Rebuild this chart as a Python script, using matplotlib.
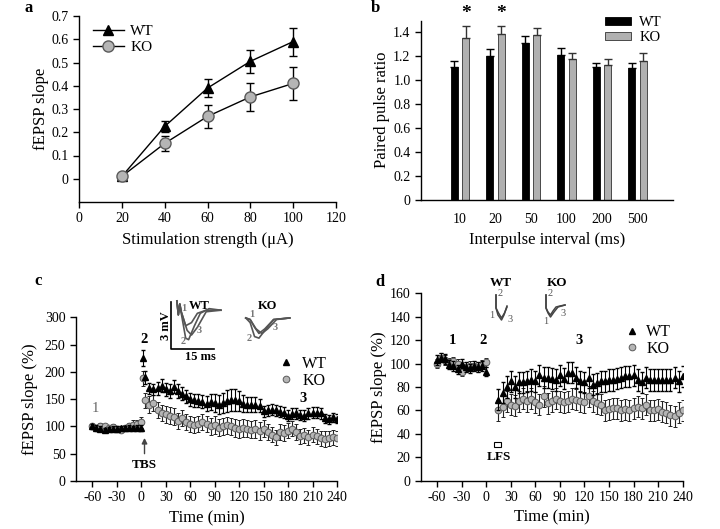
import numpy as np
import matplotlib
matplotlib.use("Agg")
import matplotlib.pyplot as plt

plt.rcParams['font.family'] = ['Liberation Serif', 'DejaVu Serif']
plt.rcParams['axes.linewidth'] = 1.0
plt.rcParams['axes.unicode_minus'] = False

# ---------------- data ----------------
# panel a: input-output
stim = [20, 40, 60, 80, 100]
io_wt = [0.01, 0.225, 0.39, 0.505, 0.59]
io_wt_err = [0.015, 0.025, 0.04, 0.05, 0.06]
io_ko = [0.01, 0.152, 0.268, 0.352, 0.41]
io_ko_err = [0.015, 0.033, 0.05, 0.06, 0.07]

# panel b: paired pulse
ppi_labels = ['10', '20', '50', '100', '200', '500']
ppr_wt = [1.11, 1.205, 1.31, 1.215, 1.11, 1.10]
ppr_wt_err = [0.05, 0.055, 0.06, 0.055, 0.035, 0.045]
ppr_ko = [1.35, 1.385, 1.375, 1.18, 1.125, 1.165]
ppr_ko_err = [0.10, 0.07, 0.06, 0.05, 0.05, 0.06]
ppr_sig = [0, 1]

# panel c: LTP (TBS at t=0)
ltp_t_base = list(range(-60, 1, 5))
ltp_t_post = [2] + list(range(5, 241, 5))
ltp_wt_base = [100, 98, 96, 93, 95, 96, 96, 97, 97, 98, 97, 98, 97]
ltp_ko_base = [100, 98, 101, 100, 97, 99, 95, 94, 97, 101, 103, 104, 108]
ltp_wt_post = [225, 190, 170, 168, 170, 175, 168, 165, 173, 165, 160, 155, 150,
               148, 147, 145, 142, 145, 143, 140, 143, 146, 148, 148, 147, 142,
               140, 140, 140, 138, 128, 130, 131, 130, 127, 125, 120, 123, 124,
               121, 120, 124, 125, 125, 124, 115, 113, 117, 114]
ltp_ko_post = [188, 148, 140, 143, 130, 125, 122, 120, 118, 110, 115, 108, 105,
               103, 105, 108, 105, 100, 103, 98, 100, 102, 100, 97, 95, 97,
               96, 94, 95, 92, 96, 90, 85, 80, 90, 88, 92, 96, 90, 82,
               84, 80, 85, 82, 78, 77, 78, 80, 78]
ltp_wt_base_err = [4, 4, 4, 4, 4, 4, 4, 4, 4, 4, 4, 4, 5]
ltp_ko_base_err = [5, 5, 5, 5, 5, 5, 5, 5, 5, 6, 8, 8, 10]
ltp_wt_post_err = [15, 12, 10, 10, 12, 12, 12, 12, 12, 12, 12, 12, 12,
                   12, 12, 12, 14, 15, 16, 18, 18, 20, 20, 20, 18, 15,
                   14, 14, 14, 12, 10, 10, 10, 10, 10, 10, 10, 10, 10,
                   10, 10, 10, 10, 10, 10, 8, 8, 8, 8]
ltp_ko_post_err = [14, 14, 15, 15, 15, 15, 15, 15, 15, 15, 15, 15, 15,
                   15, 15, 15, 15, 16, 16, 16, 16, 16, 16, 16, 16, 16,
                   16, 16, 16, 16, 15, 15, 14, 14, 14, 14, 14, 14, 14, 14,
                   14, 14, 14, 14, 14, 14, 14, 14, 14]

# panel d: LTD (LFS)
ltd_t_base = list(range(-60, 1, 5))
ltd_t_post = list(range(15, 241, 5))
ltd_wt_base = [103, 105, 104, 99, 98, 95, 100, 97, 96, 98, 97, 98, 93]
ltd_ko_base = [100, 105, 103, 101, 102, 100, 93, 97, 98, 98, 97, 99, 101]
ltd_wt_post = [69, 75, 80, 85, 80, 84, 84, 85, 86, 85, 90, 88, 88, 87, 86, 90,
               87, 92, 92, 88, 85, 84, 88, 82, 83, 85, 85, 86, 86, 87, 88, 89,
               89, 90, 86, 84, 88, 86, 86, 86, 86, 86, 86, 88, 85, 89]
ltd_ko_post = [60, 63, 68, 65, 64, 68, 70, 68, 70, 67, 65, 72, 66, 68, 70, 68,
               67, 68, 70, 69, 68, 67, 72, 68, 66, 65, 60, 61, 62, 62, 60, 61,
               60, 62, 63, 62, 65, 60, 60, 61, 59, 58, 56, 55, 58, 60]
ltd_base_err = 4
ltd_post_err = 9

# example traces (ms, mV)
tr_c_wt = [([2, 2.5, 3, 3.5, 5, 7, 9, 12, 17], [3.1, 2.2, 2.9, 2.4, 1.5, 1.7, 2.3, 2.5, 2.5]),
           ([2, 2.5, 3, 3.5, 5, 6, 8, 10, 13, 17], [3.1, 2.2, 2.9, 2.3, 0.7, 0.6, 1.5, 2.3, 2.6, 2.5]),
           ([2, 2.5, 3, 3.5, 5.5, 7, 9, 12, 17], [3.1, 2.2, 2.9, 2.4, 1.2, 0.9, 1.4, 2.4, 2.5])]
tr_c_ko = [([25.5, 27, 28.5, 30, 32, 35, 40.5], [2.0, 1.9, 1.4, 1.0, 1.3, 1.9, 2.0]),
           ([25.5, 27, 28.5, 30, 32, 35, 40.5], [2.0, 1.7, 0.8, 0.7, 1.2, 1.9, 2.0]),
           ([25.5, 27, 29, 31, 33, 36, 40.5], [2.0, 1.9, 1.3, 1.0, 1.3, 1.9, 2.0])]
tr_d_wt = [([8, 8, 10, 13.5, 16, 19], [30, 17, 10, 5, 10, 19]),
           ([8, 8, 10.5, 13.5, 16.5, 19], [30, 17, 12, 7, 12, 18])]
tr_d_ko = [([58, 58, 60, 62.5, 66, 70, 77], [30, 17, 12, 8, 13, 18, 20]),
           ([58, 58, 60, 62.5, 65, 68, 72, 77], [30, 17, 13, 10, 14, 18, 19, 20])]

W, H = 720, 529
fig = plt.figure(figsize=(W / 100, H / 100), dpi=100)

TICK = 10
LAB = 12


def px_axes(x0, y0, x1, y1):
    return fig.add_axes([x0 / W, 1 - y1 / H, (x1 - x0) / W, (y1 - y0) / H])


def style(ax):
    ax.spines['top'].set_visible(False)
    ax.spines['right'].set_visible(False)
    ax.tick_params(direction='out', length=4, width=1, labelsize=TICK)


GRAY = '#b5b5b5'
EDGE = '#5a5a5a'

# ---------------- a ----------------
ax = px_axes(79, 16, 336, 202)
style(ax)
ax.errorbar(stim, io_wt, yerr=io_wt_err, color='black', marker='^', ms=7,
            lw=1, capsize=3, elinewidth=1, label='WT', zorder=3)
ax.errorbar(stim, io_ko, yerr=io_ko_err, color='black', marker='o', ms=8,
            mfc=GRAY, mec=EDGE, lw=1, capsize=3, elinewidth=1, label='KO', zorder=3)
ax.set_xlim(0, 120)
ax.set_ylim(-0.1, 0.7)
ax.set_xticks(range(0, 121, 20))
ax.set_yticks(np.arange(0, 0.71, 0.1))
ax.set_yticklabels(['0', '0.1', '0.2', '0.3', '0.4', '0.5', '0.6', '0.7'])
ax.set_xlabel('Stimulation strength (μA)', fontsize=LAB, labelpad=5)
ax.set_ylabel('fEPSP slope', fontsize=LAB, labelpad=2)
h, l = ax.get_legend_handles_labels()
h = [x[0] for x in h]
ax.legend(h, l, loc='upper left', bbox_to_anchor=(0.0545, 0.955), frameon=False,
          fontsize=11, handlelength=2.0, handletextpad=0.45, labelspacing=0.15,
          borderpad=0, borderaxespad=0)
fig.text(29 / W, 1 - 8 / H, 'a', fontsize=12, fontweight='bold', va='center', ha='center')

# ---------------- b ----------------
ax = px_axes(421, 20.5, 673, 200)
style(ax)
x = np.arange(len(ppi_labels))
bw = 0.2
ax.bar(x - 0.16, ppr_wt, bw, color='black', edgecolor='black', lw=0.6,
       yerr=[np.zeros(len(x)), ppr_wt_err], error_kw=dict(capsize=3, elinewidth=1, ecolor='black'),
       label='WT')
ax.bar(x + 0.16, ppr_ko, bw, color='#b0b0b0', edgecolor='#333333', lw=0.6,
       yerr=[np.zeros(len(x)), ppr_ko_err], error_kw=dict(capsize=3, elinewidth=1, ecolor='#333333'),
       label='KO')
for i in ppr_sig:
    ax.text(x[i] + 0.16, 1.56, '*', fontsize=14, fontweight='bold', ha='center', va='center')
ax.set_xlim(-1.1, 6.0)
ax.set_ylim(0, 1.5)
ax.set_xticks(x)
ax.set_xticklabels(ppi_labels)
ax.tick_params(axis='x', length=0, pad=9)
ax.set_yticks(np.arange(0, 1.41, 0.2))
ax.set_yticklabels(['0', '0.2', '0.4', '0.6', '0.8', '1.0', '1.2', '1.4'])
ax.set_xlabel('Interpulse interval (ms)', fontsize=LAB, labelpad=5)
ax.set_ylabel('Paired pulse ratio', fontsize=LAB, labelpad=2)
ax.legend(loc='upper left', bbox_to_anchor=(0.73, 1.025), frameon=False, fontsize=10.5,
          handlelength=1.8, handleheight=0.45, handletextpad=0.55, labelspacing=0.15,
          borderpad=0, borderaxespad=0)
fig.text(375 / W, 1 - 8 / H, 'b', fontsize=12, fontweight='bold', va='center', ha='center')


def timecourse(ax, tb, tp, wb, wp, kb, kp, web, wep, keb, kep):
    t = tb + tp
    wt = wb + wp
    ko = kb + kp
    we = list(web) + list(wep)
    ke = list(keb) + list(kep)
    ax.errorbar(t, ko, yerr=ke, fmt='o', ms=4.8, mfc=GRAY, mec=EDGE, mew=0.7,
                ecolor='#222222', elinewidth=0.8, capsize=1.5, label='KO', zorder=2)
    ax.errorbar(t, wt, yerr=we, fmt='^', ms=5, color='black',
                ecolor='black', elinewidth=0.8, capsize=1.5, label='WT', zorder=3)


# ---------------- c ----------------
ax = px_axes(76, 317.3, 337, 481)
style(ax)
timecourse(ax, ltp_t_base, ltp_t_post, ltp_wt_base, ltp_wt_post, ltp_ko_base, ltp_ko_post,
           ltp_wt_base_err, ltp_wt_post_err, ltp_ko_base_err, ltp_ko_post_err)
ax.set_xlim(-80, 240)
ax.set_ylim(0, 300)
ax.set_xticks(range(-60, 241, 30))
ax.set_yticks(range(0, 301, 50))
ax.set_xlabel('Time (min)', fontsize=LAB, labelpad=4)
ax.set_ylabel('fEPSP slope (%)', fontsize=LAB, labelpad=5)
h, l = ax.get_legend_handles_labels()
h = [x[0] for x in h][::-1]
ax.legend(h, l[::-1], loc='upper left', bbox_to_anchor=(0.778, 0.765), frameon=False,
          fontsize=11.5, handlelength=0.9, handletextpad=0.55, labelspacing=0.05,
          borderpad=0, borderaxespad=0)
ax.annotate('', xy=(4, 84), xytext=(4, 45),
            arrowprops=dict(arrowstyle='-|>', color='#444444', lw=1, mutation_scale=8))
ax.text(4, 29, 'TBS', fontsize=9.5, fontweight='bold', ha='center', va='center')
ax.text(-56, 132, '1', fontsize=10.5, color='#666666', ha='center', va='center')
ax.text(4, 260, '2', fontsize=10.5, fontweight='bold', ha='center', va='center')
ax.text(198, 152, '3', fontsize=10.5, fontweight='bold', ha='center', va='center')
fig.text(38 / W, 1 - 281 / H, 'c', fontsize=12, fontweight='bold', va='center', ha='center')

# inset traces c
ins = px_axes(171, 297, 300, 349)
ins.axis('off')
ins.set_xlim(0, 44)
ins.set_ylim(0, 3.35)
ins.plot([0, 0, 14.5], [3.0, 0, 0], color='black', lw=1.2, clip_on=False)
for tx, ty in tr_c_wt + tr_c_ko:
    ins.plot(tx, ty, color='#555555', lw=1.2, clip_on=False)
ins.text(9.5, 2.75, 'WT', fontsize=9, fontweight='bold', ha='center', va='center')
ins.text(33, 2.75, 'KO', fontsize=9, fontweight='bold', ha='center', va='center')
ins.text(10, -0.5, '15 ms', fontsize=9, fontweight='bold', ha='center', va='center')
ins.text(-1.8, 1.5, '3 mV', fontsize=9, fontweight='bold', ha='center', va='center', rotation=90)
for lx, ly, s in [(4.5, 2.6, '1'), (4.0, 0.5, '2'), (9.5, 1.2, '3'),
                  (27.5, 2.2, '1'), (26.5, 0.7, '2'), (35.5, 1.4, '3')]:
    ins.text(lx, ly, s, fontsize=7.5, fontweight='bold', color='#777777', ha='center', va='center')

# ---------------- d ----------------
ax = px_axes(420.7, 293.3, 682.7, 480.7)
style(ax)
timecourse(ax, ltd_t_base, ltd_t_post, ltd_wt_base, ltd_wt_post, ltd_ko_base, ltd_ko_post,
           [ltd_base_err] * len(ltd_t_base), [ltd_post_err] * len(ltd_t_post),
           [ltd_base_err] * len(ltd_t_base), [ltd_post_err] * len(ltd_t_post))
ax.set_xlim(-80, 240)
ax.set_ylim(0, 160)
ax.set_xticks(range(-60, 241, 30))
ax.set_yticks(range(0, 161, 20))
ax.set_xlabel('Time (min)', fontsize=LAB, labelpad=4)
ax.set_ylabel('fEPSP slope (%)', fontsize=LAB, labelpad=2)
h, l = ax.get_legend_handles_labels()
h = [x[0] for x in h][::-1]
ax.legend(h, l[::-1], loc='upper left', bbox_to_anchor=(0.7786, 0.835), frameon=False,
          fontsize=11.5, handlelength=0.9, handletextpad=0.45, labelspacing=0.05,
          borderpad=0, borderaxespad=0)
ax.add_patch(plt.Rectangle((10, 29), 8, 4, fill=False, ec='black', lw=0.8))
ax.text(15, 20.5, 'LFS', fontsize=9.5, fontweight='bold', ha='center', va='center')
ax.text(-41, 120, '1', fontsize=10.5, fontweight='bold', ha='center', va='center')
ax.text(-4, 120, '2', fontsize=10.5, fontweight='bold', ha='center', va='center')
ax.text(114, 120, '3', fontsize=10.5, fontweight='bold', ha='center', va='center')
ax.text(17.5, 168.5, 'WT', fontsize=9.5, fontweight='bold', ha='center', va='center')
ax.text(87, 168.5, 'KO', fontsize=9.5, fontweight='bold', ha='center', va='center')
fig.text(380 / W, 1 - 282 / H, 'd', fontsize=12, fontweight='bold', va='center', ha='center')

ins = px_axes(488, 288, 570, 325)
ins.axis('off')
ins.set_xlim(0, 82)
ins.set_ylim(0, 37)
for tx, ty in tr_d_wt + tr_d_ko:
    ins.plot(tx, ty, color='#444444', lw=1.1, clip_on=False)
for lx, ly, s in [(12, 32, '2'), (3.5, 9.5, '1'), (22, 6, '3'),
                  (62, 32, '2'), (58, 3.5, '1'), (75, 12, '3')]:
    ins.text(lx, ly, s, fontsize=7.5, color='#555555', ha='center', va='center')

fig.savefig('out.png', dpi=100)
